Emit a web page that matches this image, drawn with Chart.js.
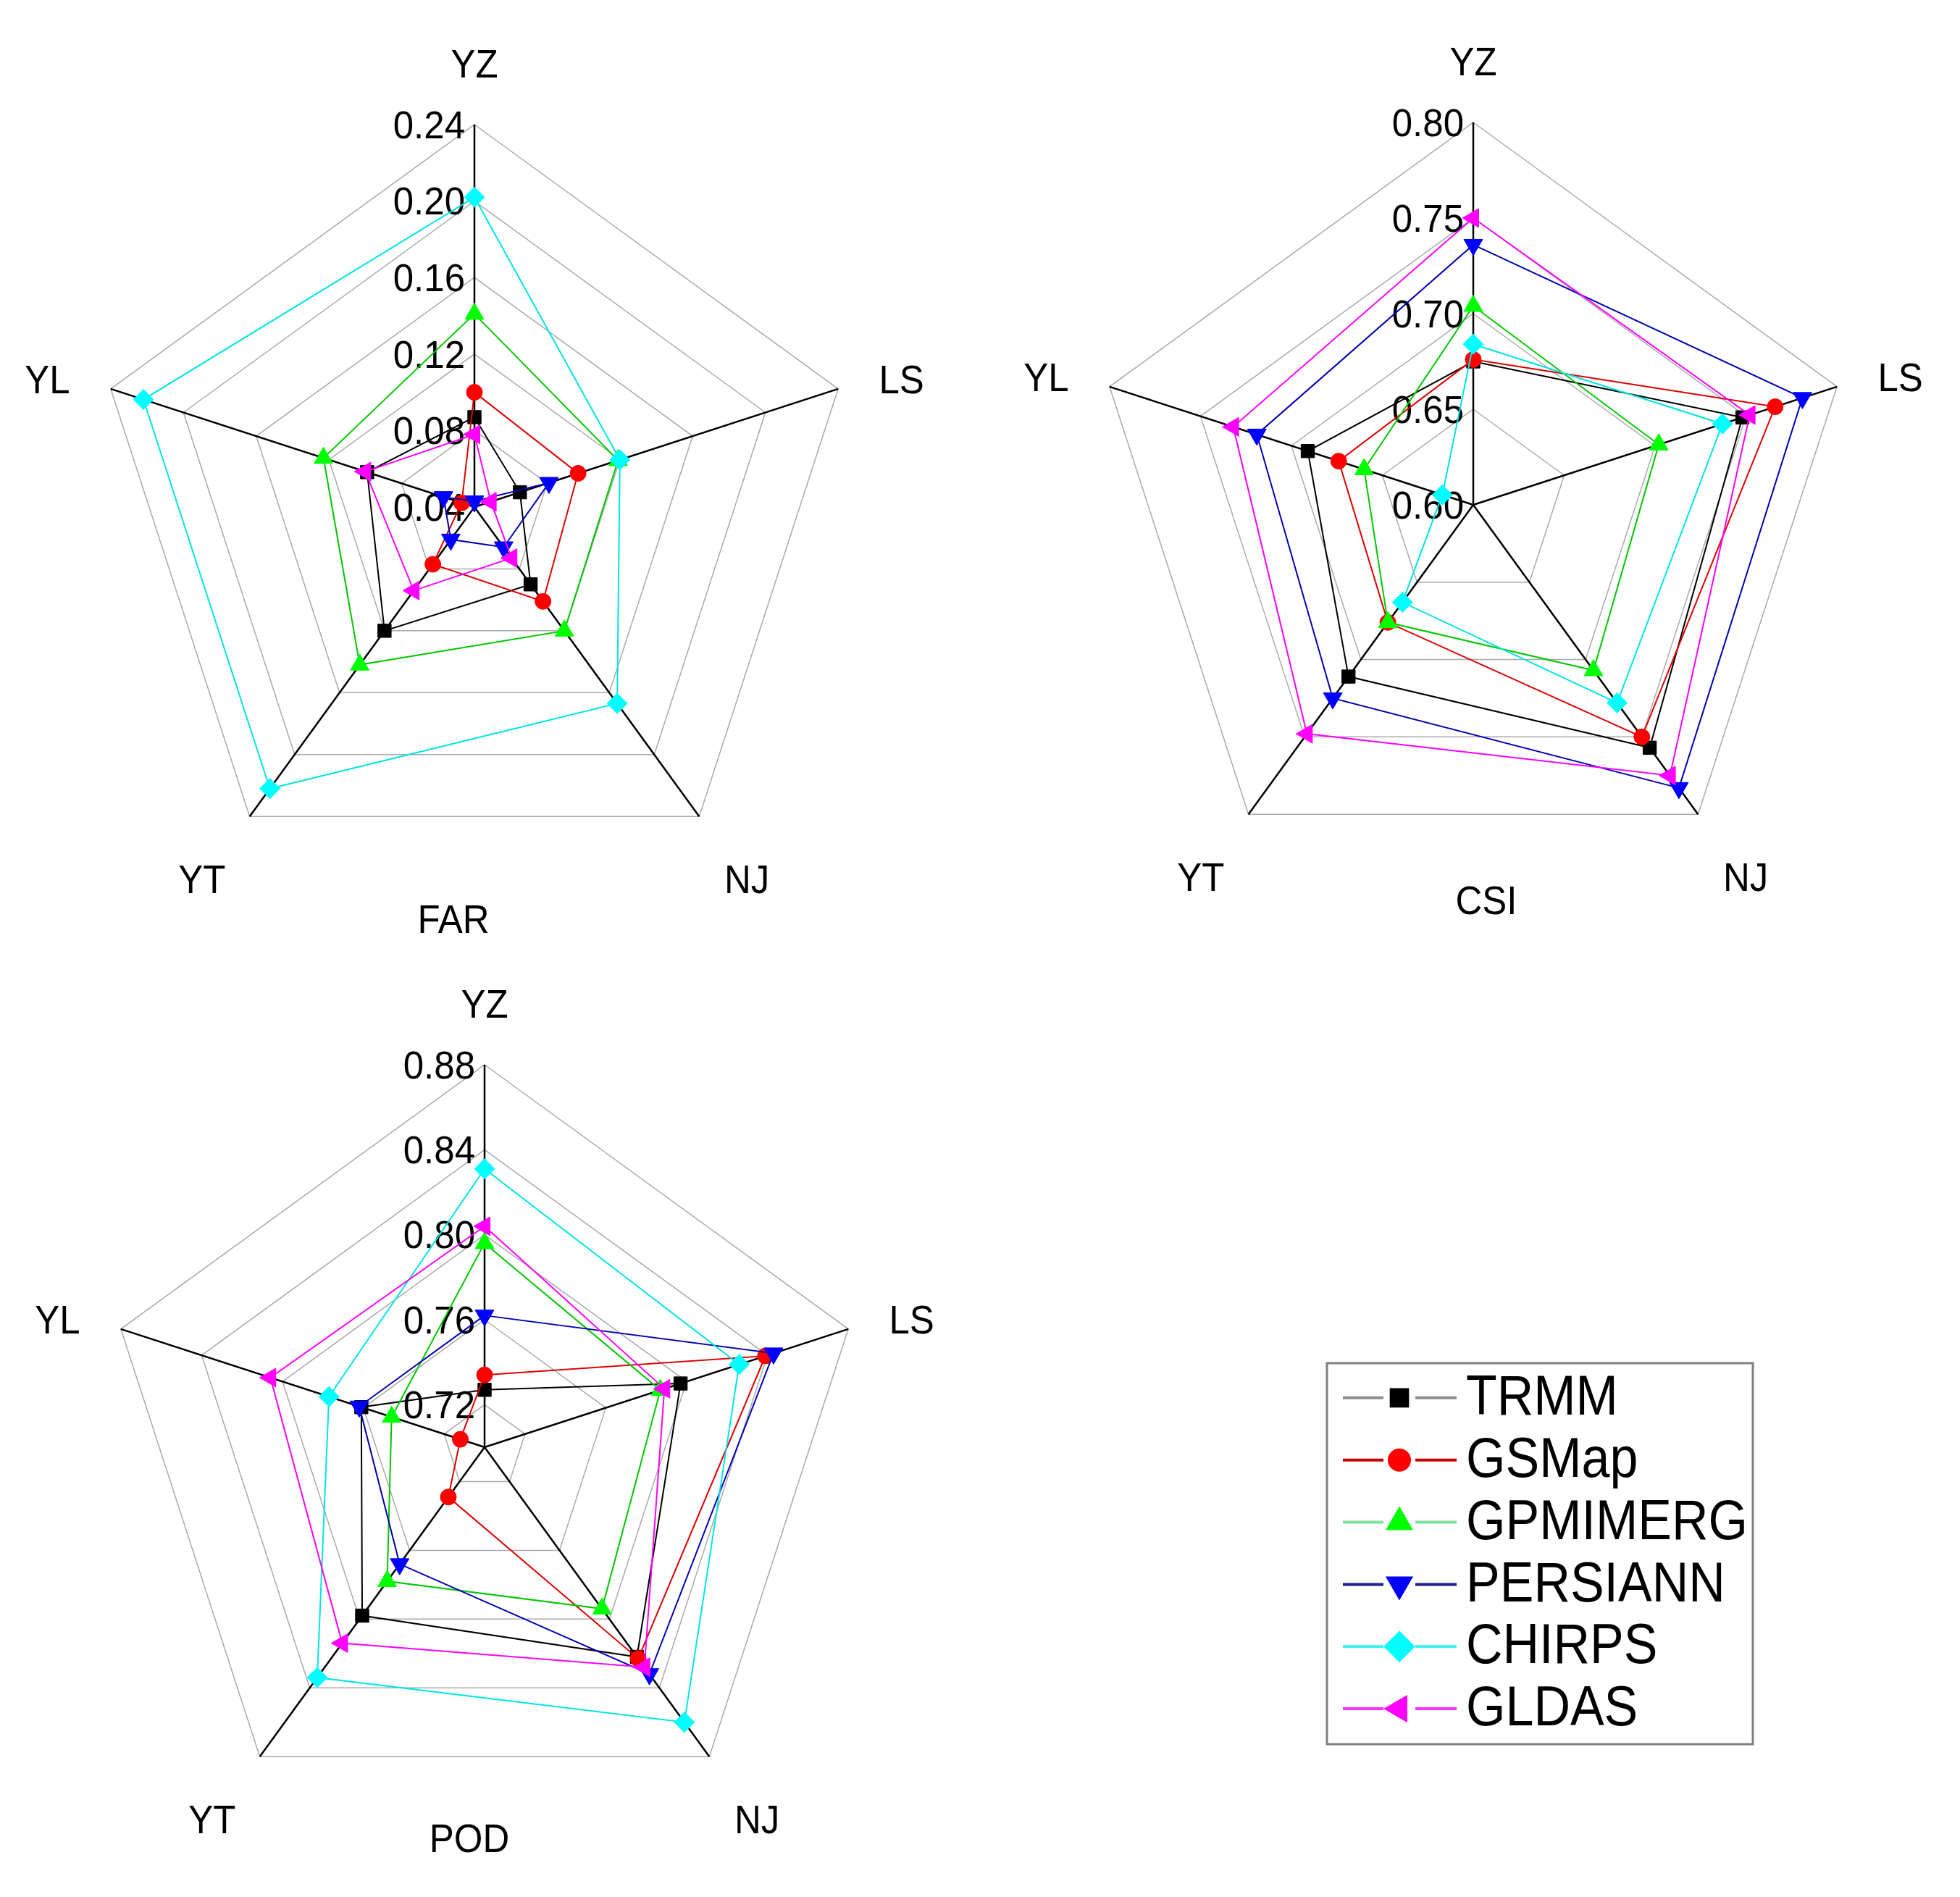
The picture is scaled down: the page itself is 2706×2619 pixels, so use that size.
<!DOCTYPE html>
<html>
<head>
<meta charset="utf-8">
<script src="https://cdn.jsdelivr.net/npm/chart.js@4.4.1/dist/chart.umd.min.js"></script>
<style>
  html, body { margin: 0; padding: 0; background: #fff; }
  #page { position: relative; width: 2706px; height: 2619px; background: #fff; }
  canvas { position: absolute; }
</style>
</head>
<body>
<div id="page">
  <canvas id="chart-far" width="1353" height="1330" style="left:0;top:0"></canvas>
  <canvas id="chart-csi" width="1353" height="1330" style="left:1353px;top:0"></canvas>
  <canvas id="chart-pod" width="2706" height="1289" style="left:0;top:1330px"></canvas>
</div>
<script>
const stations = ['YZ', 'LS', 'NJ', 'YT', 'YL'];
const products = ['TRMM', 'GSMap', 'GPMIMERG', 'PERSIANN', 'CHIRPS', 'GLDAS'];

// FAR
const farTicks = [0.04, 0.08, 0.12, 0.16, 0.20, 0.24];
const farTickLabels = ['0.04', '0.08', '0.12', '0.16', '0.20', '0.24'];
const farTRMM     = [0.087, 0.065, 0.090, 0.120, 0.099];
const farGSMap    = [0.100, 0.097, 0.101, 0.077, 0.047];
const farGPMIMERG = [0.141, 0.119, 0.120, 0.142, 0.123];
const farPERSIANN = [0.043, 0.081, 0.066, 0.061, 0.057];
const farCHIRPS   = [0.202, 0.120, 0.167, 0.222, 0.222];
const farGLDAS    = [0.078, 0.049, 0.073, 0.094, 0.100];

// CSI
const csiTicks = [0.60, 0.65, 0.70, 0.75, 0.80];
const csiTickLabels = ['0.60', '0.65', '0.70', '0.75', '0.80'];
const csiTRMM     = [0.675, 0.748, 0.757, 0.711, 0.691];
const csiGSMap    = [0.676, 0.766, 0.750, 0.676, 0.674];
const csiGPMIMERG = [0.704, 0.702, 0.707, 0.676, 0.660];
const csiPERSIANN = [0.736, 0.781, 0.783, 0.725, 0.719];
const csiCHIRPS   = [0.684, 0.737, 0.728, 0.663, 0.617];
const csiGLDAS    = [0.750, 0.752, 0.775, 0.748, 0.732];

// POD (axis starts at 0.70, first ring at 0.72)
const podTicks = [0.70, 0.72, 0.76, 0.80, 0.84, 0.88];
const podTickLabels = ['', '0.72', '0.76', '0.80', '0.84', '0.88'];
const podTRMM     = [0.727, 0.797, 0.822, 0.798, 0.761];
const podGSMap    = [0.734, 0.839, 0.823, 0.729, 0.712];
const podGPMIMERG = [0.796, 0.787, 0.794, 0.778, 0.746];
const podPERSIANN = [0.762, 0.843, 0.832, 0.768, 0.762];
const podCHIRPS   = [0.831, 0.826, 0.860, 0.834, 0.777];
const podGLDAS    = [0.804, 0.789, 0.828, 0.814, 0.806];

// styles
const lineColors   = ['#000000', '#e00000', '#00c800', '#0000b4', '#00e5e5', '#ff00ff'];
const markerColors = ['#000000', '#ff0000', '#00ff00', '#0000ff', '#00ffff', '#ff00ff'];
const legendLineColors = ['#8c8c8c', '#c80000', '#80e0a0', '#20208c', '#40f0f0', '#ff30ff'];
const pointStyles  = ['rect', 'circle', 'triangle', 'triangle', 'rectRot', 'triangle'];
const pointRotations = [0, 0, 0, 180, 0, 270];
const pointRadii   = [13, 11, 15, 15, 14, 15];
const legendRadii  = [16, 14, 18, 18, 19, 18];

const FONT = '"Liberation Sans", Arial, "DejaVu Sans", sans-serif';
const labelExtra = [80, 92, 112, 112, 92];
const labelDy = [0, 19, 0, 0, 19];

function stretchedText(ctx, text, x, y, align, font, sy) {
  ctx.save();
  ctx.translate(x, y);
  ctx.scale(1, sy);
  ctx.font = font;
  ctx.fillStyle = '#000';
  ctx.textAlign = align;
  ctx.textBaseline = 'middle';
  ctx.fillText(text, 0, 0);
  ctx.restore();
}

function drawLegend(ctx, box) {
  ctx.save();
  ctx.strokeStyle = '#808080';
  ctx.lineWidth = 3;
  ctx.strokeRect(box.left, box.top, box.width, box.height);
  products.forEach((name, i) => {
    const y = box.top + box.height * (0.091 + i * 0.1632);
    const mx = box.left + 100;
    ctx.strokeStyle = legendLineColors[i];
    ctx.lineWidth = 4;
    ctx.beginPath();
    ctx.moveTo(box.left + 22, y);
    ctx.lineTo(mx - 22, y);
    ctx.moveTo(mx + 22, y);
    ctx.lineTo(box.left + 179, y);
    ctx.stroke();
    ctx.fillStyle = markerColors[i];
    ctx.strokeStyle = markerColors[i];
    Chart.helpers.drawPoint(ctx, {
      pointStyle: pointStyles[i], radius: legendRadii[i], rotation: pointRotations[i], borderWidth: 1,
    }, mx, y);
    stretchedText(ctx, name, box.left + 192, y + 2, 'left', `70px ${FONT}`, 1.1);
  });
  ctx.restore();
}

function textPlugin(cfg) {
  return {
    id: 'radarText',
    beforeDatasetsDraw(chart) {
      const r = chart.scales.r;
      const ctx = chart.ctx;
      cfg.ticks.forEach((v, i) => {
        const label = cfg.tickLabels[i];
        if (!label) return;
        const y = r.yCenter - r.getDistanceFromCenterForValue(v) + 4;
        stretchedText(ctx, label, r.xCenter - 13, y, 'right', `51px ${FONT}`, 1.05);
      });
    },
    afterDraw(chart) {
      const r = chart.scales.r;
      const ctx = chart.ctx;
      stations.forEach((name, i) => {
        const p = r.getPointPosition(i, r.drawingArea + labelExtra[i]);
        stretchedText(ctx, name, p.x, p.y + labelDy[i], 'center', `51px ${FONT}`, 1.08);
      });
      stretchedText(ctx, cfg.title, r.xCenter + cfg.titleDx, r.yCenter + cfg.titleDy, 'center', `51px ${FONT}`, 1.08);
      if (cfg.legend) drawLegend(ctx, cfg.legend);
    },
  };
}

function makeRadar(canvasId, cfg) {
  const el = document.getElementById(canvasId);
  return new Chart(el, {
    type: 'radar',
    plugins: [textPlugin(cfg)],
    data: {
      labels: stations,
      datasets: cfg.series.map((vals, i) => ({
        label: products[i],
        data: vals,
        borderColor: lineColors[i],
        borderWidth: 2,
        fill: false,
        tension: 0,
        pointStyle: pointStyles[i],
        pointRotation: pointRotations[i],
        pointRadius: pointRadii[i],
        pointHoverRadius: pointRadii[i],
        pointBackgroundColor: markerColors[i],
        pointBorderColor: markerColors[i],
        pointBorderWidth: 1,
        order: products.length - i,
        clip: false,
      })),
    },
    options: {
      responsive: false,
      animation: false,
      devicePixelRatio: 1,
      events: [],
      layout: { padding: cfg.padding },
      plugins: { legend: { display: false }, tooltip: { enabled: false }, title: { display: false } },
      scales: {
        r: {
          min: cfg.ticks[0],
          max: cfg.ticks[cfg.ticks.length - 1],
          ticks: { display: false },
          afterBuildTicks: s => { s.ticks = cfg.ticks.map(v => ({ value: v })); },
          grid: { color: '#aaaaaa', lineWidth: 1.5 },
          angleLines: { color: '#000000', lineWidth: 2.5 },
          pointLabels: { display: false },
        },
      },
    },
  });
}

// centre of each radar = padding.left + 528, padding.top + 528 (radius 528)
makeRadar('chart-far', {
  title: 'FAR', titleDx: -29, titleDy: 573,
  ticks: farTicks, tickLabels: farTickLabels,
  series: [farTRMM, farGSMap, farGPMIMERG, farPERSIANN, farCHIRPS, farGLDAS],
  padding: { left: 127, top: 172, right: 170, bottom: 102 },
});

makeRadar('chart-csi', {
  title: 'CSI', titleDx: 18, titleDy: 550,
  ticks: csiTicks, tickLabels: csiTickLabels,
  series: [csiTRMM, csiGSMap, csiGPMIMERG, csiPERSIANN, csiCHIRPS, csiGLDAS],
  padding: { left: 153, top: 169, right: 144, bottom: 105 },
});

makeRadar('chart-pod', {
  title: 'POD', titleDx: -21, titleDy: 544,
  ticks: podTicks, tickLabels: podTickLabels,
  series: [podTRMM, podGSMap, podGPMIMERG, podPERSIANN, podCHIRPS, podGLDAS],
  padding: { left: 141, top: 140, right: 1509, bottom: 93 },
  legend: { left: 1832, top: 552, width: 588, height: 526 },
});
</script>
</body>
</html>
